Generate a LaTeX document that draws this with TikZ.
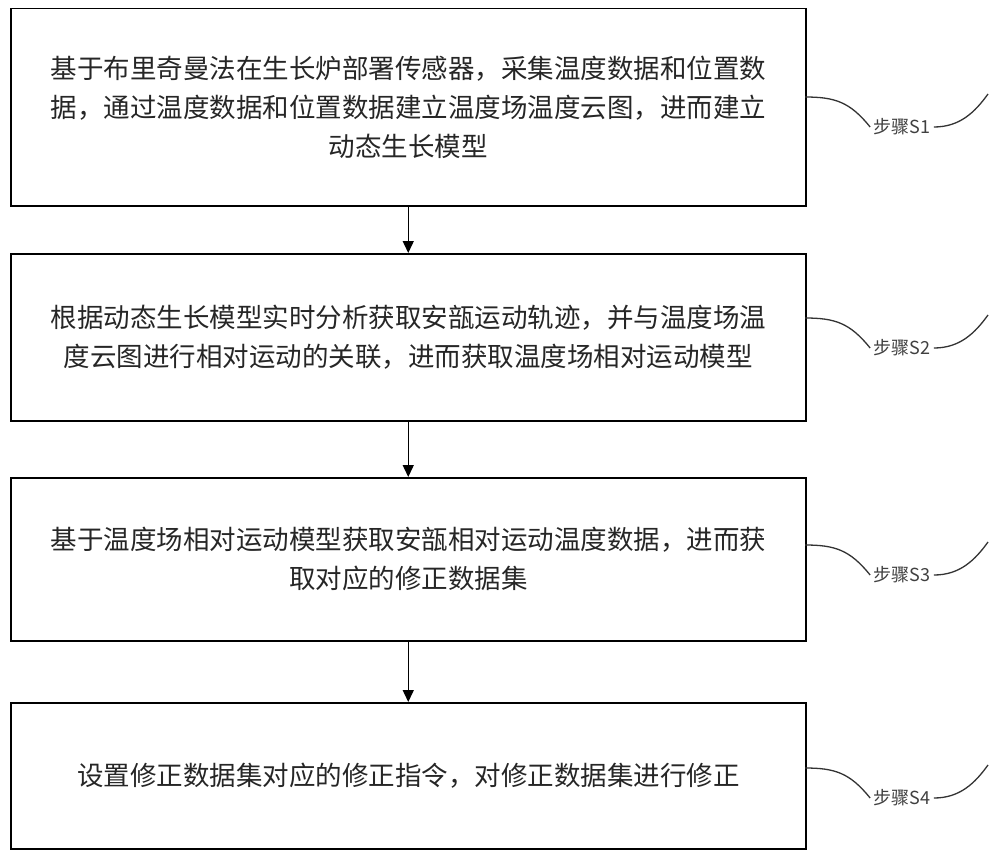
\documentclass[tikz,border=0pt]{standalone}
\usepackage{fontspec}
\setmainfont{Noto Sans CJK SC}
\usetikzlibrary{arrows.meta}
\begin{document}
\begin{tikzpicture}[x=1pt,y=-1pt,
  stepbox/.style={draw,line width=1.5pt,minimum width=795pt,anchor=north west,align=center,font=\fontsize{26.5}{39}\selectfont,inner sep=0pt,text=black!85},
  lbl/.style={font=\fontsize{18}{18}\selectfont,text=black!75},
  arr/.style={-{Triangle[length=12pt,width=11pt]},line width=1.5pt},
  crv/.style={line width=1.3pt,black!80}]
\useasboundingbox (0,0) rectangle (1000,856);
\node[stepbox,minimum height=197pt] (b1) at (10,8) {基于布里奇曼法在生长炉部署传感器，采集温度数据和位置数\\据，通过温度数据和位置数据建立温度场温度云图，进而建立\\动态生长模型};
\node[stepbox,minimum height=167pt] (b2) at (10,253) {根据动态生长模型实时分析获取安瓿运动轨迹，并与温度场温\\度云图进行相对运动的关联，进而获取温度场相对运动模型};
\node[stepbox,minimum height=163pt] (b3) at (10,477) {基于温度场相对运动模型获取安瓿相对运动温度数据，进而获\\取对应的修正数据集};
\node[stepbox,minimum height=146pt] (b4) at (10,702) {设置修正数据集对应的修正指令，对修正数据集进行修正};
\draw[arr] (b1.south) -- (b2.north);
\draw[arr] (b2.south) -- (b3.north);
\draw[arr] (b3.south) -- (b4.north);
\foreach \b/\n/\y in {b1/1/127,b2/2/348,b3/3/575,b4/4/798}{
  \node[lbl] (l\n) at (902,\y) {步骤S\n};
  \coordinate (e\n) at (805,\y-30);
  \coordinate (f\n) at (988,\y-33);
  \draw[crv] (e\n) .. controls (835,\y-30) and (850,\y-25) .. (l\n.west);
  \draw[crv] (l\n.east) .. controls (960,\y) and (975,\y-15) .. (f\n);
}
\end{tikzpicture}
\end{document}
